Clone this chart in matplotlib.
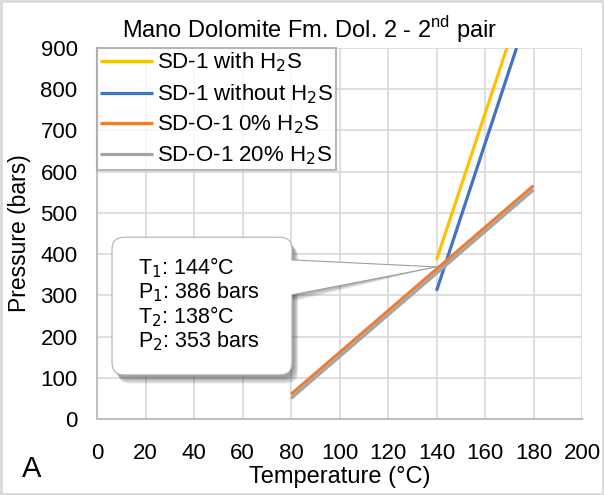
import matplotlib
matplotlib.use("Agg")
import matplotlib.pyplot as plt
from matplotlib.patches import FancyBboxPatch, Polygon, Rectangle

plt.rcParams['font.family'] = ['Liberation Sans', 'DejaVu Sans']

# Series (temperature in degC, pressure in bars)
sd1_h2s_t = [140, 169]
sd1_h2s_p = [386, 900]
sd1_noh2s_t = [140, 173]
sd1_noh2s_p = [311, 900]
sdo1_0_t = [80, 180]
sdo1_0_p = [60, 566]
sdo1_20_t = [80, 180]
sdo1_20_p = [50, 556]

series_labels = ['SD-1 with H$_2$S', 'SD-1 without H$_2$S',
                 'SD-O-1 0% H$_2$S', 'SD-O-1 20% H$_2$S']
series_colors = ['#FFC000', '#4472C4', '#ED7D31', '#A5A5A5']

x_ticks = list(range(0, 201, 20))
y_ticks = list(range(0, 901, 100))

callout_lines = ['T$_1$: 144°C', 'P$_1$: 386 bars', 'T$_2$: 138°C', 'P$_2$: 353 bars']

fig = plt.figure(figsize=(6.04, 4.95), dpi=100)
ax = fig.add_axes([0.1606, 0.1535, 0.803, 0.7495])

# figure border
fig.patches.append(Rectangle((0.002, 0.002), 0.996, 0.996, transform=fig.transFigure,
                             fill=False, edgecolor='#d9d9d9', linewidth=2))

xs = [sd1_h2s_t, sd1_noh2s_t, sdo1_0_t, sdo1_20_t]
ys = [sd1_h2s_p, sd1_noh2s_p, sdo1_0_p, sdo1_20_p]
for x, y, lab, c in zip(xs, ys, series_labels, series_colors):
    ax.plot(x, y, color=c, linewidth=2.3, label=lab, solid_capstyle='butt', zorder=3)

ax.set_xlim(0, 200)
ax.set_ylim(0, 900)
ax.set_xticks(x_ticks)
ax.set_yticks(y_ticks)
ax.tick_params(length=0, labelsize=16)
ax.tick_params(axis='x', pad=17)
ax.tick_params(axis='y', pad=14)
ax.grid(True, color='#d9d9d9', linewidth=1.2)
ax.set_axisbelow(True)
for side in ['top', 'right']:
    ax.spines[side].set_visible(False)
for side in ['left', 'bottom']:
    ax.spines[side].set_color('#bfbfbf')
    ax.spines[side].set_linewidth(1.5)

ax.set_xlabel('Temperature (°C)', fontsize=17, va='baseline')
ax.set_ylabel('Pressure (bars)', fontsize=16.5)
ax.xaxis.set_label_coords(0.5, -0.1725)
ax.yaxis.set_label_coords(-0.137, 0.5)
fig.text(0.513, 0.924, 'Mano Dolomite Fm. Dol. 2 - 2$^{\\mathregular{nd}}$ pair',
         fontsize=17, ha='center', va='baseline')

leg = ax.legend(loc='upper left', fontsize=16, frameon=True, fancybox=False,
                edgecolor='#a6a6a6', handlelength=2.4, handletextpad=0.2,
                labelspacing=0.36, borderpad=0.12, borderaxespad=0.0)
leg.get_frame().set_linewidth(1.5)

# callout box with pointer
aspect = (1 / 0.4122) / (1 / 2.425)
bx0, bx1, by0, by1 = 6.2, 80.4, 107, 441
tip = (140, 369)
for i, a in enumerate([0.10, 0.10, 0.10, 0.12]):
    off = 1.0 + i * 0.5
    sh = FancyBboxPatch((bx0 + off, by0 - off * aspect * 1.4), bx1 - bx0, by1 - by0,
                        boxstyle='round,pad=0,rounding_size=5', mutation_aspect=aspect,
                        facecolor='black', edgecolor='none', alpha=a, zorder=4)
    ax.add_patch(sh)
    ax.add_patch(Polygon([(bx1 - 2 + off, 300 - off * aspect), tip,
                          (bx1 - 2 + off, 386 - off * aspect)],
                         facecolor='black', edgecolor='none', alpha=a * 0.8, zorder=4))
box = FancyBboxPatch((bx0, by0), bx1 - bx0, by1 - by0,
                     boxstyle='round,pad=0,rounding_size=5', mutation_aspect=aspect,
                     facecolor='white', edgecolor='#b0b0b0', linewidth=0.8, zorder=5)
ax.add_patch(box)
wedge = [(bx1 - 1, 386), tip, (bx1 - 1, 301)]
ax.add_patch(Polygon(wedge, facecolor='white', edgecolor='none', zorder=6))
ax.plot([bx1, tip[0]], [386, tip[1]], color='#a0a0a0', linewidth=0.8, zorder=6)
ax.plot([bx1, tip[0]], [301, tip[1]], color='#a0a0a0', linewidth=0.8, zorder=6)
for i, line in enumerate(callout_lines):
    ax.text(16.9, 352 - i * 59.5, line, fontsize=15.5, va='baseline', ha='left', zorder=7)

fig.text(0.036, 0.036, 'A', fontsize=21, ha='left', va='baseline')

fig.savefig('out.png', dpi=100)
